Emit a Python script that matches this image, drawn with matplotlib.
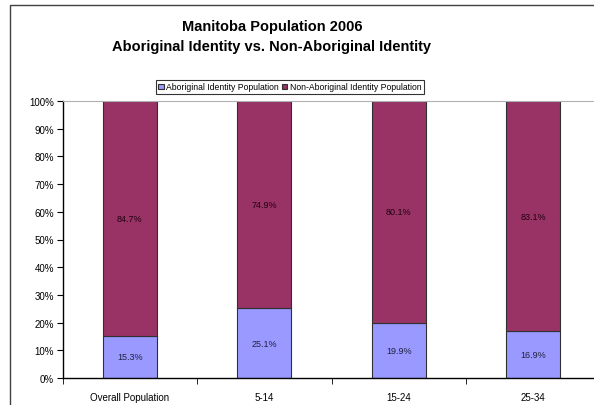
import numpy as np
import matplotlib.pyplot as plt
from matplotlib.patches import Rectangle

categories = ['Overall Population', '5-14', '15-24', '25-34']
aboriginal = [15.3, 25.1, 19.9, 16.9]
non_aboriginal = [84.7, 74.9, 80.1, 83.1]

plt.rcParams['font.family'] = ['Liberation Sans', 'DejaVu Sans']

fig = plt.figure(figsize=(5.94, 4.06), dpi=100)
# chart frame (cropped on right and bottom)
fig.patches.append(Rectangle((9.5 / 594, -0.1), 1.2, 1.1 - 5.5 / 406 + 0.0,
                             transform=fig.transFigure, fill=False,
                             edgecolor='#404040', linewidth=1.0))

ax = fig.add_axes([62.5 / 594, 27 / 406, 538 / 594, 277 / 406])
x = np.arange(len(categories))
width = 0.4
b1 = ax.bar(x, aboriginal, width, color='#9999ff', edgecolor='#303030',
            linewidth=0.8, label='Aboriginal Identity Population')
b2 = ax.bar(x, non_aboriginal, width, bottom=aboriginal, color='#993366',
            edgecolor='#303030', linewidth=0.8,
            label='Non-Aboriginal Identity Population')

for i in range(len(categories)):
    ax.text(x[i], aboriginal[i] / 2, f'{aboriginal[i]:.1f}%', ha='center',
            va='center', fontsize=6.5, color='#202040')
    ax.text(x[i], aboriginal[i] + non_aboriginal[i] / 2, f'{non_aboriginal[i]:.1f}%',
            ha='center', va='center', fontsize=6.5, color='#200010')

ax.set_xlim(-0.5, len(categories) - 0.5)
ax.set_ylim(0, 100)
ax.set_yticks(np.arange(0, 101, 10))
ax.set_yticklabels([f'{v}%' for v in range(0, 101, 10)], fontsize=7)
ax.set_xticks(x)
ax.set_xticklabels(categories, fontsize=7)
ax.set_xticks(np.arange(-0.5, len(categories), 1), minor=True)
ax.tick_params(axis='x', which='major', length=0, pad=10)
ax.tick_params(axis='x', which='minor', length=4, direction='out')
ax.tick_params(axis='y', length=4, direction='out', pad=2)
ax.spines['right'].set_visible(False)
ax.spines['top'].set_color('#b0b0b0')
ax.spines['left'].set_linewidth(1.0)
ax.spines['bottom'].set_linewidth(1.0)

fig.text(272 / 594, 1 - 27 / 406, 'Manitoba Population 2006', ha='center',
         va='center', fontsize=10.5, fontweight='bold')
fig.text(272 / 594, 1 - 47 / 406, 'Aboriginal Identity vs. Non-Aboriginal Identity',
         ha='center', va='center', fontsize=10.5, fontweight='bold')

leg = fig.legend(handles=[b1, b2], loc='center', bbox_to_anchor=(290 / 594, 1 - 88 / 406),
                 ncol=2, fontsize=6.2, frameon=True, fancybox=False,
                 edgecolor='black', handlelength=0.6, handleheight=0.6,
                 handletextpad=0.3, columnspacing=0.4, borderpad=0.3)
leg.get_frame().set_linewidth(0.8)

fig.savefig('out.png', dpi=100)
